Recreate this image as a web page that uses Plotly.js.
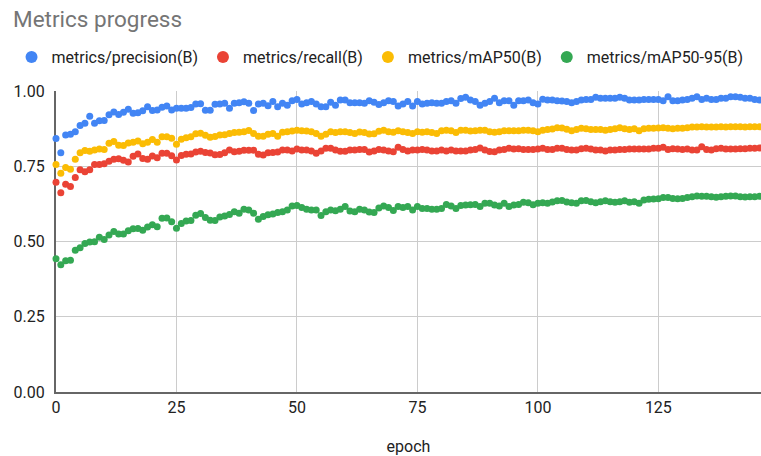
<!DOCTYPE html>
<html>
<head>
<meta charset="utf-8">
<script src="https://cdn.plot.ly/plotly-3.0.1.min.js"></script>
<style>
  html, body { margin: 0; padding: 0; background: #ffffff; }
  #chart { width: 761px; height: 456px; }
</style>
</head>
<body>
<div id="chart"></div>
<script>
// Training metrics per epoch (YOLO-style validation metrics)
const precision = [
  0.842, 0.795, 0.854, 0.856, 0.865, 0.885, 0.893, 0.916, 0.893, 0.901,
  0.902, 0.921, 0.930, 0.922, 0.929, 0.939, 0.926, 0.928, 0.934, 0.948,
  0.935, 0.937, 0.946, 0.950, 0.937, 0.943, 0.943, 0.943, 0.945, 0.957,
  0.958, 0.936, 0.936, 0.956, 0.957, 0.959, 0.943, 0.959, 0.961, 0.964,
  0.959, 0.935, 0.957, 0.959, 0.951, 0.965, 0.948, 0.959, 0.953, 0.968,
  0.972, 0.957, 0.961, 0.965, 0.957, 0.948, 0.948, 0.963, 0.953, 0.970,
  0.970, 0.961, 0.961, 0.961, 0.959, 0.968, 0.963, 0.955, 0.961, 0.968,
  0.965, 0.950, 0.957, 0.965, 0.950, 0.965, 0.957, 0.959, 0.961, 0.959,
  0.959, 0.965, 0.968, 0.959, 0.975, 0.979, 0.970, 0.965, 0.953, 0.959,
  0.965, 0.976, 0.961, 0.968, 0.968, 0.953, 0.968, 0.968, 0.970, 0.961,
  0.957, 0.973, 0.970, 0.970, 0.968, 0.967, 0.965, 0.961, 0.965, 0.970,
  0.972, 0.972, 0.979, 0.976, 0.976, 0.976, 0.976, 0.979, 0.976, 0.970,
  0.970, 0.970, 0.972, 0.972, 0.972, 0.972, 0.968, 0.981, 0.968, 0.968,
  0.970, 0.972, 0.976, 0.981, 0.972, 0.976, 0.972, 0.972, 0.976, 0.976,
  0.981, 0.981, 0.979, 0.976, 0.976, 0.972, 0.970
];

const recall = [
  0.697, 0.662, 0.690, 0.683, 0.713, 0.738, 0.732, 0.738, 0.756, 0.756,
  0.758, 0.767, 0.773, 0.775, 0.770, 0.764, 0.783, 0.791, 0.776, 0.773,
  0.784, 0.778, 0.793, 0.793, 0.785, 0.771, 0.786, 0.790, 0.791, 0.797,
  0.800, 0.796, 0.794, 0.788, 0.789, 0.795, 0.804, 0.798, 0.800, 0.803,
  0.803, 0.803, 0.790, 0.787, 0.795, 0.796, 0.797, 0.804, 0.804, 0.801,
  0.807, 0.804, 0.804, 0.801, 0.793, 0.801, 0.810, 0.810, 0.804, 0.800,
  0.800, 0.804, 0.804, 0.806, 0.806, 0.797, 0.801, 0.806, 0.804, 0.801,
  0.798, 0.813, 0.806, 0.801, 0.804, 0.804, 0.806, 0.804, 0.801, 0.801,
  0.804, 0.801, 0.804, 0.801, 0.801, 0.801, 0.804, 0.806, 0.811, 0.804,
  0.799, 0.798, 0.804, 0.806, 0.810, 0.807, 0.808, 0.806, 0.806, 0.806,
  0.807, 0.810, 0.806, 0.806, 0.810, 0.810, 0.806, 0.804, 0.804, 0.808,
  0.810, 0.807, 0.804, 0.804, 0.801, 0.804, 0.804, 0.806, 0.806, 0.807,
  0.807, 0.807, 0.807, 0.807, 0.810, 0.810, 0.813, 0.806, 0.808, 0.807,
  0.806, 0.807, 0.804, 0.804, 0.815, 0.806, 0.804, 0.808, 0.810, 0.807,
  0.807, 0.807, 0.808, 0.808, 0.810, 0.810, 0.811
];

const mAP50 = [
  0.756, 0.727, 0.746, 0.740, 0.773, 0.795, 0.802, 0.800, 0.804, 0.807,
  0.806, 0.826, 0.832, 0.820, 0.819, 0.827, 0.830, 0.834, 0.825, 0.830,
  0.839, 0.830, 0.848, 0.848, 0.843, 0.823, 0.840, 0.845, 0.848, 0.858,
  0.860, 0.853, 0.846, 0.849, 0.854, 0.855, 0.859, 0.862, 0.863, 0.865,
  0.869, 0.859, 0.850, 0.850, 0.856, 0.859, 0.850, 0.863, 0.865, 0.867,
  0.870, 0.868, 0.867, 0.865, 0.859, 0.850, 0.856, 0.865, 0.862, 0.865,
  0.865, 0.862, 0.859, 0.864, 0.862, 0.857, 0.858, 0.866, 0.870, 0.865,
  0.863, 0.868, 0.865, 0.862, 0.859, 0.865, 0.863, 0.865, 0.862, 0.859,
  0.868, 0.870, 0.868, 0.862, 0.870, 0.870, 0.867, 0.868, 0.870, 0.870,
  0.865, 0.863, 0.865, 0.868, 0.868, 0.868, 0.868, 0.870, 0.870, 0.868,
  0.865, 0.870, 0.872, 0.874, 0.878, 0.877, 0.873, 0.868, 0.872, 0.876,
  0.875, 0.872, 0.872, 0.872, 0.870, 0.872, 0.875, 0.878, 0.875, 0.872,
  0.875, 0.868, 0.875, 0.876, 0.876, 0.877, 0.878, 0.876, 0.875, 0.876,
  0.876, 0.878, 0.880, 0.880, 0.881, 0.880, 0.880, 0.880, 0.881, 0.880,
  0.881, 0.881, 0.881, 0.880, 0.881, 0.881, 0.881
];

const mAP50_95 = [
  0.443, 0.423, 0.436, 0.438, 0.471, 0.479, 0.493, 0.498, 0.499, 0.514,
  0.507, 0.522, 0.533, 0.525, 0.525, 0.536, 0.542, 0.543, 0.537, 0.548,
  0.556, 0.549, 0.577, 0.578, 0.566, 0.544, 0.560, 0.568, 0.570, 0.587,
  0.593, 0.580, 0.571, 0.570, 0.581, 0.585, 0.590, 0.599, 0.594, 0.607,
  0.605, 0.594, 0.574, 0.583, 0.589, 0.591, 0.596, 0.599, 0.605, 0.618,
  0.620, 0.613, 0.607, 0.605, 0.605, 0.586, 0.599, 0.605, 0.602, 0.607,
  0.616, 0.601, 0.599, 0.607, 0.605, 0.598, 0.596, 0.611, 0.618, 0.613,
  0.603, 0.616, 0.613, 0.616, 0.605, 0.616, 0.610, 0.610, 0.607, 0.607,
  0.610, 0.623, 0.618, 0.610, 0.620, 0.621, 0.622, 0.623, 0.616, 0.627,
  0.627, 0.621, 0.618, 0.627, 0.616, 0.621, 0.623, 0.630, 0.629, 0.622,
  0.627, 0.629, 0.627, 0.631, 0.635, 0.636, 0.631, 0.629, 0.627, 0.635,
  0.636, 0.632, 0.629, 0.632, 0.635, 0.632, 0.630, 0.632, 0.635, 0.630,
  0.632, 0.627, 0.638, 0.640, 0.641, 0.642, 0.646, 0.646, 0.643, 0.642,
  0.643, 0.646, 0.649, 0.651, 0.650, 0.650, 0.649, 0.647, 0.649, 0.650,
  0.651, 0.651, 0.649, 0.648, 0.649, 0.649, 0.650
];

const epochs = precision.map((_, i) => i);

const seriesNames = ['metrics/precision(B)', 'metrics/recall(B)', 'metrics/mAP50(B)', 'metrics/mAP50-95(B)'];
const seriesValues = [precision, recall, mAP50, mAP50_95];
const seriesColors = ['#4285F4', '#EA4335', '#FBBC04', '#34A853'];

const yTicks = [0, 0.25, 0.5, 0.75, 1.0];
const xTicks = [0, 25, 50, 75, 100, 125];

const FONT = 'Roboto, Arial, sans-serif';

// plot area geometry (px) used to place the legend in paper coordinates
const PLOT_L = 55.5, PLOT_T = 91, PLOT_B = 64, W = 761, H = 456;
const plotW = W - PLOT_L, plotH = H - PLOT_T - PLOT_B;

const traces = seriesNames.map((name, k) => ({
  type: 'scatter',
  mode: 'markers',
  name: name,
  x: epochs,
  y: seriesValues[k],
  cliponaxis: false,
  marker: { color: seriesColors[k], size: 7, line: { width: 0 } }
}));

const layout = {
  width: W,
  height: H,
  paper_bgcolor: '#ffffff',
  plot_bgcolor: '#ffffff',
  font: { family: FONT, size: 16, color: '#222222' },
  margin: { l: PLOT_L, r: 0, t: PLOT_T, b: PLOT_B, pad: 0 },
  title: {
    text: 'Metrics progress',
    font: { family: FONT, size: 22.5, color: '#757575' },
    xref: 'container', yref: 'container',
    x: 13 / W, xanchor: 'left',
    y: 1 - 19 / H, yanchor: 'middle'
  },
  showlegend: true,
  legend: {
    orientation: 'h',
    xref: 'paper', yref: 'paper',
    x: (11 - PLOT_L) / plotW, xanchor: 'left',
    y: (H - PLOT_B - 57) / plotH, yanchor: 'middle',
    font: { family: FONT, size: 16, color: '#222222' },
    itemsizing: 'constant',
    bgcolor: 'rgba(0,0,0,0)'
  },
  xaxis: {
    range: [0, 146.3],
    tickvals: xTicks,
    ticktext: xTicks.map(String),
    showgrid: true,
    gridcolor: '#cccccc',
    gridwidth: 1,
    zeroline: false,
    showline: true,
    linecolor: '#666666',
    linewidth: 2,
    ticks: '',
    layer: 'below traces',
    tickfont: { family: FONT, size: 16, color: '#222222' },
    title: { text: 'epoch', font: { family: FONT, size: 16, color: '#222222' }, standoff: 25 }
  },
  yaxis: {
    range: [0, 1],
    tickvals: yTicks,
    tickformat: '.2f',
    showgrid: true,
    gridcolor: '#cccccc',
    gridwidth: 1,
    zeroline: false,
    showline: true,
    linecolor: '#666666',
    linewidth: 2,
    ticks: '',
    ticklabelstandoff: 6,
    layer: 'below traces',
    tickfont: { family: FONT, size: 16, color: '#222222' }
  }
};

Plotly.newPlot('chart', traces, layout, { displayModeBar: false, staticPlot: true });
</script>
</body>
</html>
